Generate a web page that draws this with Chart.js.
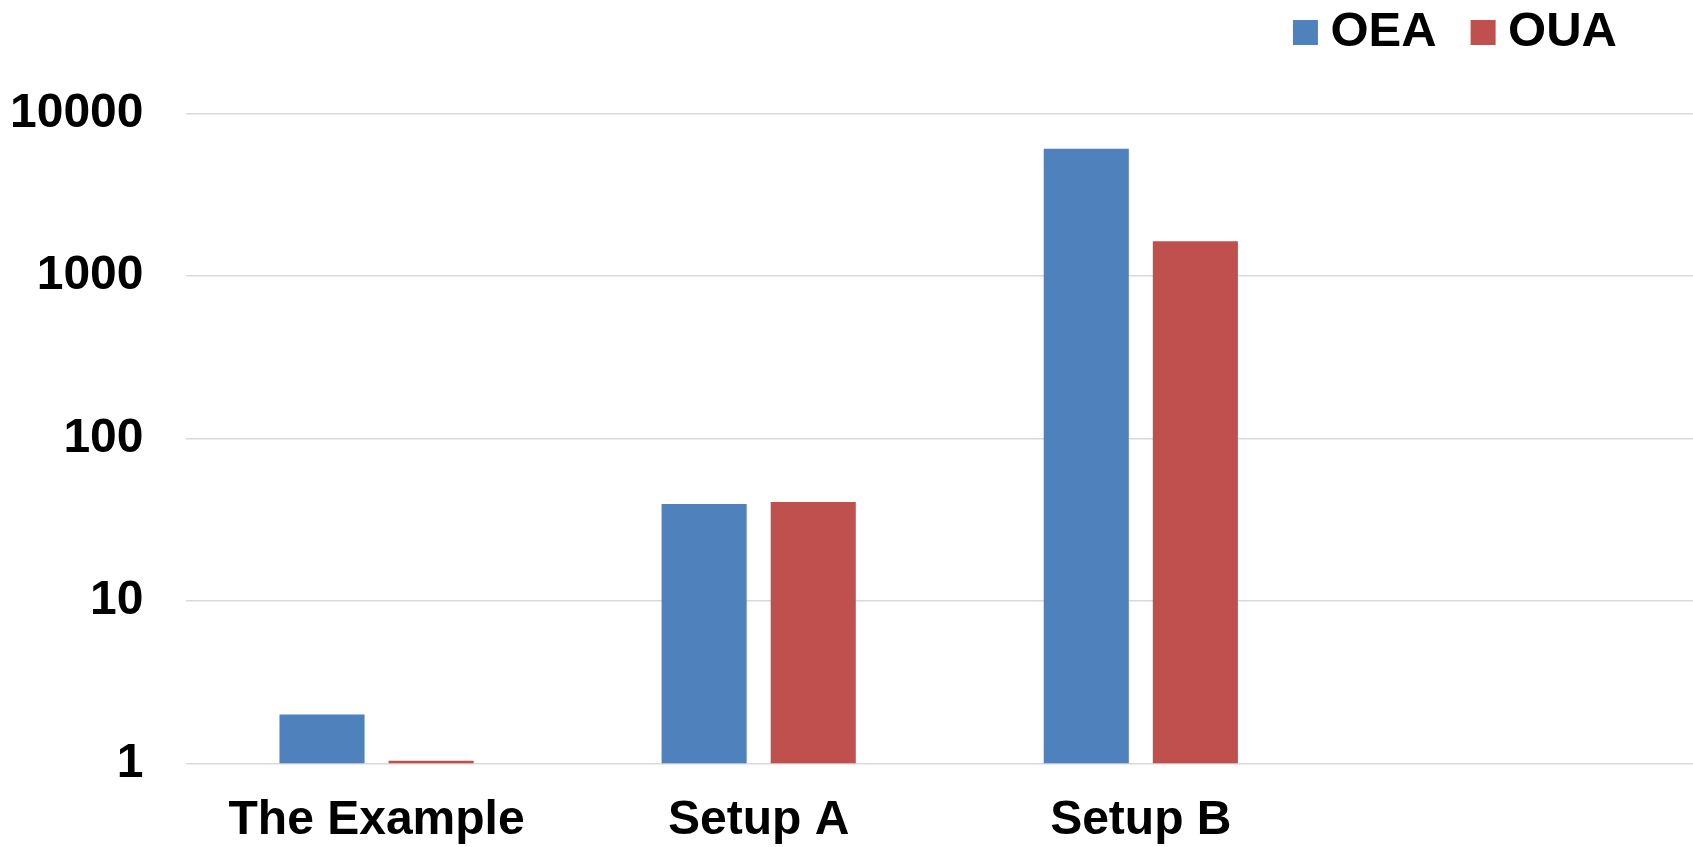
<!DOCTYPE html>
<html>
<head>
<meta charset="utf-8">
<script src="https://cdn.jsdelivr.net/npm/chart.js@4.4.1/dist/chart.umd.min.js"></script>
<style>
html, body { margin: 0; padding: 0; background: #ffffff; overflow: hidden; }
#wrap { position: relative; width: 1714px; height: 847px; }
</style>
</head>
<body>
<div id="wrap"><canvas id="c" width="1714" height="847"></canvas></div>
<script>
// ---- data ----
const categories = ['The Example', 'Setup A', 'Setup B', ''];
const seriesNames = ['OEA', 'OUA'];
const oeaValues = [2.0, 39.5, 6050, null];
const ouaValues = [1.04, 40.6, 1630, null];
const yTicks = [1, 10, 100, 1000, 10000];
const seriesColors = ['#4F81BD', '#C0504D'];

// ---- rendering ----
const FONT = "'Liberation Sans', Arial, Helvetica, sans-serif";
Chart.defaults.font.family = FONT;
Chart.defaults.color = '#000000';

const tweaks = {
  id: 'tweaks',
  afterLayout(chart) {
    const lg = chart.legend;
    if (lg) { lg.right = 1663; lg.top = -38; }
  }
};

new Chart(document.getElementById('c'), {
  type: 'bar',
  data: {
    labels: categories,
    datasets: [
      { label: seriesNames[0], data: oeaValues, backgroundColor: seriesColors[0], borderWidth: 0,
        categoryPercentage: 0.571, barPercentage: 0.78 },
      { label: seriesNames[1], data: ouaValues, backgroundColor: seriesColors[1], borderWidth: 0,
        categoryPercentage: 0.571, barPercentage: 0.78 }
    ]
  },
  options: {
    responsive: false,
    animation: false,
    layout: { padding: 0 },
    plugins: {
      tooltip: { enabled: false },
      title: { display: false },
      legend: {
        display: true,
        position: 'top',
        align: 'end',
        labels: {
          usePointStyle: true,
          pointStyle: 'rect',
          boxWidth: 1,
          boxHeight: 25,
          padding: 46,
          color: '#000000',
          font: { size: 49, weight: 'bold', family: FONT }
        }
      }
    },
    scales: {
      x: {
        type: 'category',
        offset: true,
        grid: { display: false, drawTicks: false },
        border: { display: false },
        ticks: {
          padding: 28,
          maxRotation: 0,
          minRotation: 0,
          autoSkip: false,
          color: '#000000',
          font: { size: 48, weight: 'bold', family: FONT }
        },
        afterFit(scale) { scale.height = 83.5; }
      },
      y: {
        type: 'logarithmic',
        min: 1,
        max: 10000,
        grid: { display: true, color: '#d9d9d9', lineWidth: 1.5, drawTicks: false },
        border: { display: false },
        ticks: {
          padding: 42,
          color: '#000000',
          font: { size: 48, weight: 'bold', family: FONT },
          callback: (v) => String(v)
        },
        afterBuildTicks(scale) {
          scale.ticks = yTicks.map(v => ({ value: v }));
        },
        afterFit(scale) { scale.width = 185.5; scale.paddingTop = 113.3; }
      }
    }
  },
  plugins: [tweaks]
});
</script>
</body>
</html>
